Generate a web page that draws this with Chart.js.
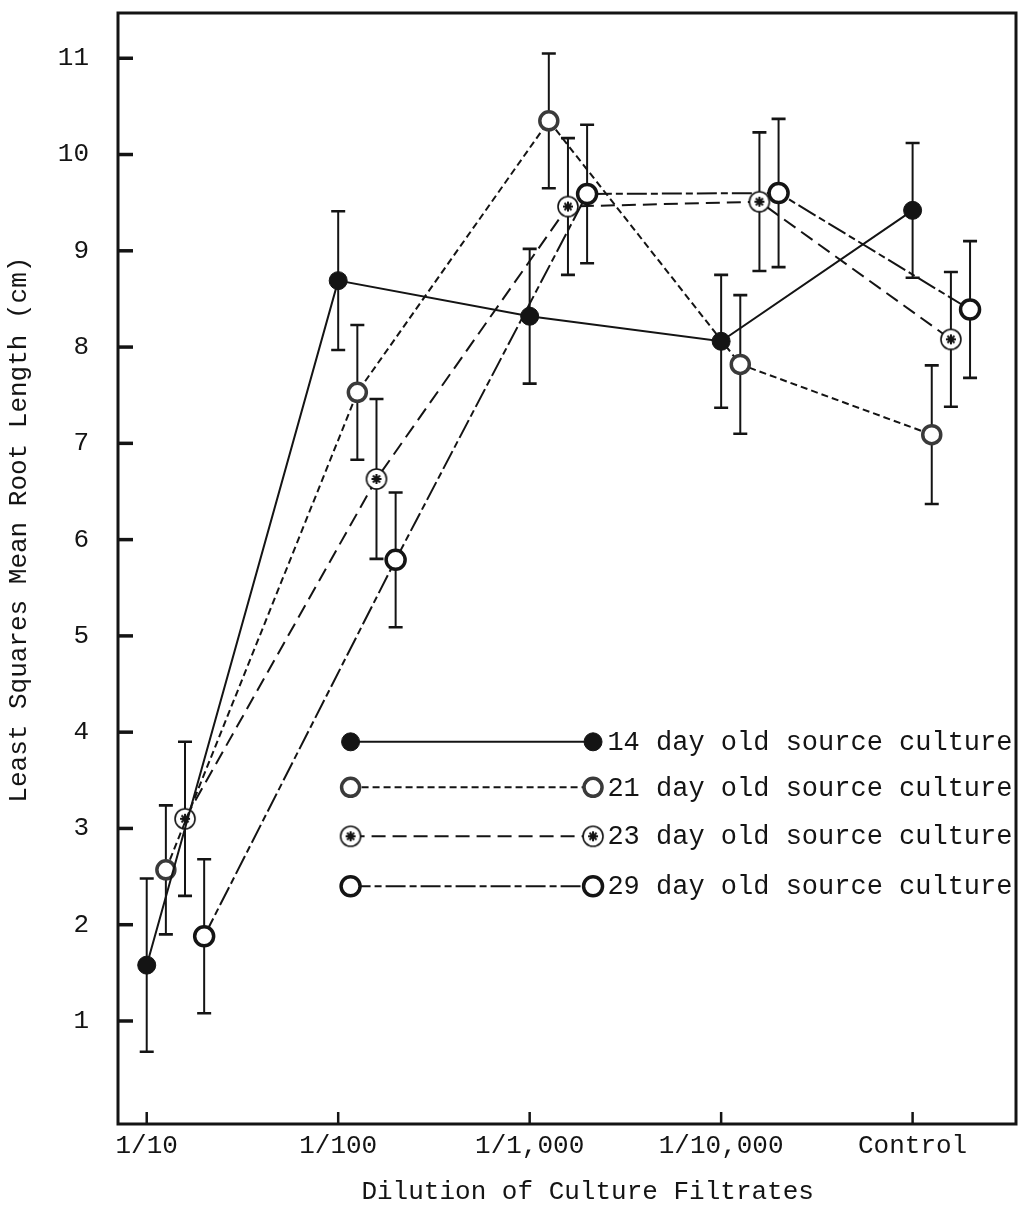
<!DOCTYPE html>
<html>
<head>
<meta charset="utf-8">
<script src="https://cdn.jsdelivr.net/npm/chart.js@4.4.1/dist/chart.umd.min.js"></script>
<style>
  html, body { margin: 0; padding: 0; background: #fff; }
  #wrap { width: 1029px; height: 1214px; }
</style>
</head>
<body>
<div id="wrap"><canvas id="rootChart" width="1029" height="1214"></canvas></div>
<script>
// values
const dilutions = ['1/10', '1/100', '1/1,000', '1/10,000', 'Control'];
const yTicks = [1, 2, 3, 4, 5, 6, 7, 8, 9, 10, 11];
const seriesNames = ['14 day old source culture', '21 day old source culture', '23 day old source culture', '29 day old source culture'];

const day14 = [1.58, 8.69, 8.32, 8.06, 9.42];
const day14Err = [0.90, 0.72, 0.70, 0.69, 0.70];
const day21 = [2.57, 7.53, 10.35, 7.82, 7.09];
const day21Err = [0.67, 0.70, 0.70, 0.72, 0.72];
const day23 = [3.10, 6.63, 9.46, 9.51, 8.08];
const day23Err = [0.80, 0.83, 0.71, 0.72, 0.70];
const day29 = [1.88, 5.79, 9.59, 9.60, 8.39];
const day29Err = [0.80, 0.70, 0.72, 0.77, 0.71];

const FONT = '"Liberation Mono", "Courier New", monospace';
const INK = '#141414';

// circle with an asterisk inside, used for the 23 day series
function makeStarMarker() {
  const c = document.createElement('canvas');
  c.width = 26; c.height = 26;
  const g = c.getContext('2d');
  g.fillStyle = '#fff';
  g.beginPath(); g.arc(13, 13, 10, 0, Math.PI * 2); g.fill();
  g.strokeStyle = INK; g.lineWidth = 1.6; g.stroke();
  g.lineWidth = 2;
  for (let i = 0; i < 4; i++) {
    const a = i * Math.PI / 4;
    g.beginPath();
    g.moveTo(13 + 5 * Math.cos(a), 13 + 5 * Math.sin(a));
    g.lineTo(13 - 5 * Math.cos(a), 13 - 5 * Math.sin(a));
    g.stroke();
  }
  return c;
}
const starMarker = makeStarMarker();

const toPoints = (vals, shift) => vals.map((v, i) => ({ x: i + shift, y: v }));

const datasets = [
  {
    label: seriesNames[0], data: toPoints(day14, 0), errors: day14Err,
    borderColor: INK, borderWidth: 2,
    pointStyle: 'circle', pointRadius: 9, pointBackgroundColor: INK, pointBorderColor: INK, pointBorderWidth: 1
  },
  {
    label: seriesNames[1], data: toPoints(day21, 0.1), errors: day21Err,
    borderColor: INK, borderWidth: 2, borderDash: [7, 4],
    pointStyle: 'circle', pointRadius: 9, pointBackgroundColor: '#fff', pointBorderColor: '#3a3a3a', pointBorderWidth: 3.5
  },
  {
    label: seriesNames[2], data: toPoints(day23, 0.2), errors: day23Err,
    borderColor: INK, borderWidth: 2, borderDash: [14, 7],
    pointStyle: starMarker
  },
  {
    label: seriesNames[3], data: toPoints(day29, 0.3), errors: day29Err,
    borderColor: INK, borderWidth: 2, borderDash: [20, 4, 7, 4],
    pointStyle: 'circle', pointRadius: 9.5, pointBackgroundColor: '#fff', pointBorderColor: INK, pointBorderWidth: 3.5
  }
];

function drawMarker(ctx, ds, x, y) {
  if (ds.pointStyle instanceof HTMLCanvasElement) {
    ctx.drawImage(ds.pointStyle, x - ds.pointStyle.width / 2, y - ds.pointStyle.height / 2);
    return;
  }
  ctx.save();
  ctx.setLineDash([]);
  ctx.beginPath();
  ctx.arc(x, y, ds.pointRadius, 0, Math.PI * 2);
  ctx.fillStyle = ds.pointBackgroundColor;
  ctx.fill();
  ctx.lineWidth = ds.pointBorderWidth;
  ctx.strokeStyle = ds.pointBorderColor;
  ctx.stroke();
  ctx.restore();
}

const whiteBg = {
  id: 'whiteBg',
  beforeDraw(chart) {
    const ctx = chart.ctx;
    ctx.save();
    ctx.fillStyle = '#fff';
    ctx.fillRect(0, 0, chart.width, chart.height);
    ctx.restore();
  }
};

// vertical bars with caps, under the lines and markers
const errorBars = {
  id: 'errorBars',
  beforeDatasetsDraw(chart) {
    const ctx = chart.ctx;
    const y = chart.scales.y;
    ctx.save();
    ctx.strokeStyle = INK;
    chart.data.datasets.forEach((ds, di) => {
      const meta = chart.getDatasetMeta(di);
      meta.data.forEach((pt, i) => {
        const v = ds.data[i].y, e = ds.errors[i];
        const top = y.getPixelForValue(v + e);
        const bot = y.getPixelForValue(v - e);
        ctx.lineWidth = 2;
        ctx.beginPath();
        ctx.moveTo(pt.x, top); ctx.lineTo(pt.x, bot);
        ctx.stroke();
        ctx.lineWidth = 2.6;
        ctx.beginPath();
        ctx.moveTo(pt.x - 7, top); ctx.lineTo(pt.x + 7, top);
        ctx.moveTo(pt.x - 7, bot); ctx.lineTo(pt.x + 7, bot);
        ctx.stroke();
      });
    });
    ctx.restore();
  }
};

// box frame, inward ticks, axis titles and the in-plot legend
const frame = {
  id: 'frame',
  afterDraw(chart) {
    const ctx = chart.ctx;
    const ca = chart.chartArea;
    const xs = chart.scales.x, ys = chart.scales.y;
    const w = ca.right - ca.left, h = ca.bottom - ca.top;
    ctx.save();
    ctx.strokeStyle = INK;
    ctx.lineWidth = 3;
    ctx.strokeRect(ca.left, ca.top, w, h);

    ctx.lineWidth = 3.5;
    ys.ticks.forEach(t => {
      const py = ys.getPixelForValue(t.value);
      ctx.beginPath(); ctx.moveTo(ca.left, py); ctx.lineTo(ca.left + 15, py); ctx.stroke();
    });
    ctx.lineWidth = 2.5;
    xs.ticks.forEach(t => {
      const px = xs.getPixelForValue(t.value);
      ctx.beginPath(); ctx.moveTo(px, ca.bottom); ctx.lineTo(px, ca.bottom - 12); ctx.stroke();
    });

    ctx.fillStyle = INK;
    ctx.font = '26px ' + FONT;
    ctx.textAlign = 'center';
    ctx.textBaseline = 'middle';
    ctx.fillText('Dilution of Culture Filtrates', ca.left + 0.523 * w, ca.bottom + 68);
    ctx.save();
    ctx.translate(ca.left - 99, ca.top + 0.465 * h);
    ctx.rotate(-Math.PI / 2);
    ctx.fillText('Least Squares Mean Root Length (cm)', 0, 0);
    ctx.restore();

    // legend
    const rowY = [0.656, 0.697, 0.741, 0.786];
    const x0 = ca.left + 0.259 * w, x1 = ca.left + 0.529 * w, xt = ca.left + 0.545 * w;
    ctx.textAlign = 'left';
    ctx.font = '27px ' + FONT;
    chart.data.datasets.forEach((ds, i) => {
      const ry = ca.top + rowY[i] * h;
      ctx.save();
      ctx.lineWidth = 2;
      ctx.setLineDash(ds.borderDash || []);
      ctx.beginPath(); ctx.moveTo(x0, ry); ctx.lineTo(x1, ry); ctx.stroke();
      ctx.restore();
      drawMarker(ctx, ds, x0, ry);
      drawMarker(ctx, ds, x1, ry);
      ctx.fillText(ds.label, xt, ry + 1);
    });
    ctx.restore();
  }
};

new Chart(document.getElementById('rootChart'), {
  type: 'line',
  data: { datasets: datasets },
  options: {
    responsive: false,
    animation: false,
    layout: { padding: { left: 0, top: 9, right: 7, bottom: 0 } },
    elements: { line: { tension: 0 } },
    scales: {
      x: {
        type: 'linear',
        min: -0.15,
        max: 4.54,
        grid: { display: false, drawTicks: false },
        border: { display: false },
        afterBuildTicks: s => { s.ticks = dilutions.map((_, i) => ({ value: i })); },
        afterFit: s => { s.height = 90; s.paddingLeft = 0; s.paddingRight = 0; },
        ticks: {
          autoSkip: false,
          maxRotation: 0,
          padding: 7,
          color: INK,
          font: { family: FONT, size: 26 },
          callback: v => dilutions[Math.round(v)]
        }
      },
      y: {
        type: 'linear',
        min: -0.07,
        max: 11.47,
        grid: { display: false, drawTicks: false },
        border: { display: false },
        afterBuildTicks: s => { s.ticks = yTicks.map(v => ({ value: v })); },
        afterFit: s => { s.width = 118; s.paddingTop = 0; s.paddingBottom = 0; },
        ticks: {
          padding: 29,
          color: INK,
          font: { family: FONT, size: 26 },
          callback: v => String(v)
        }
      }
    },
    plugins: {
      legend: { display: false },
      tooltip: { enabled: false }
    }
  },
  plugins: [whiteBg, errorBars, frame]
});
</script>
</body>
</html>
